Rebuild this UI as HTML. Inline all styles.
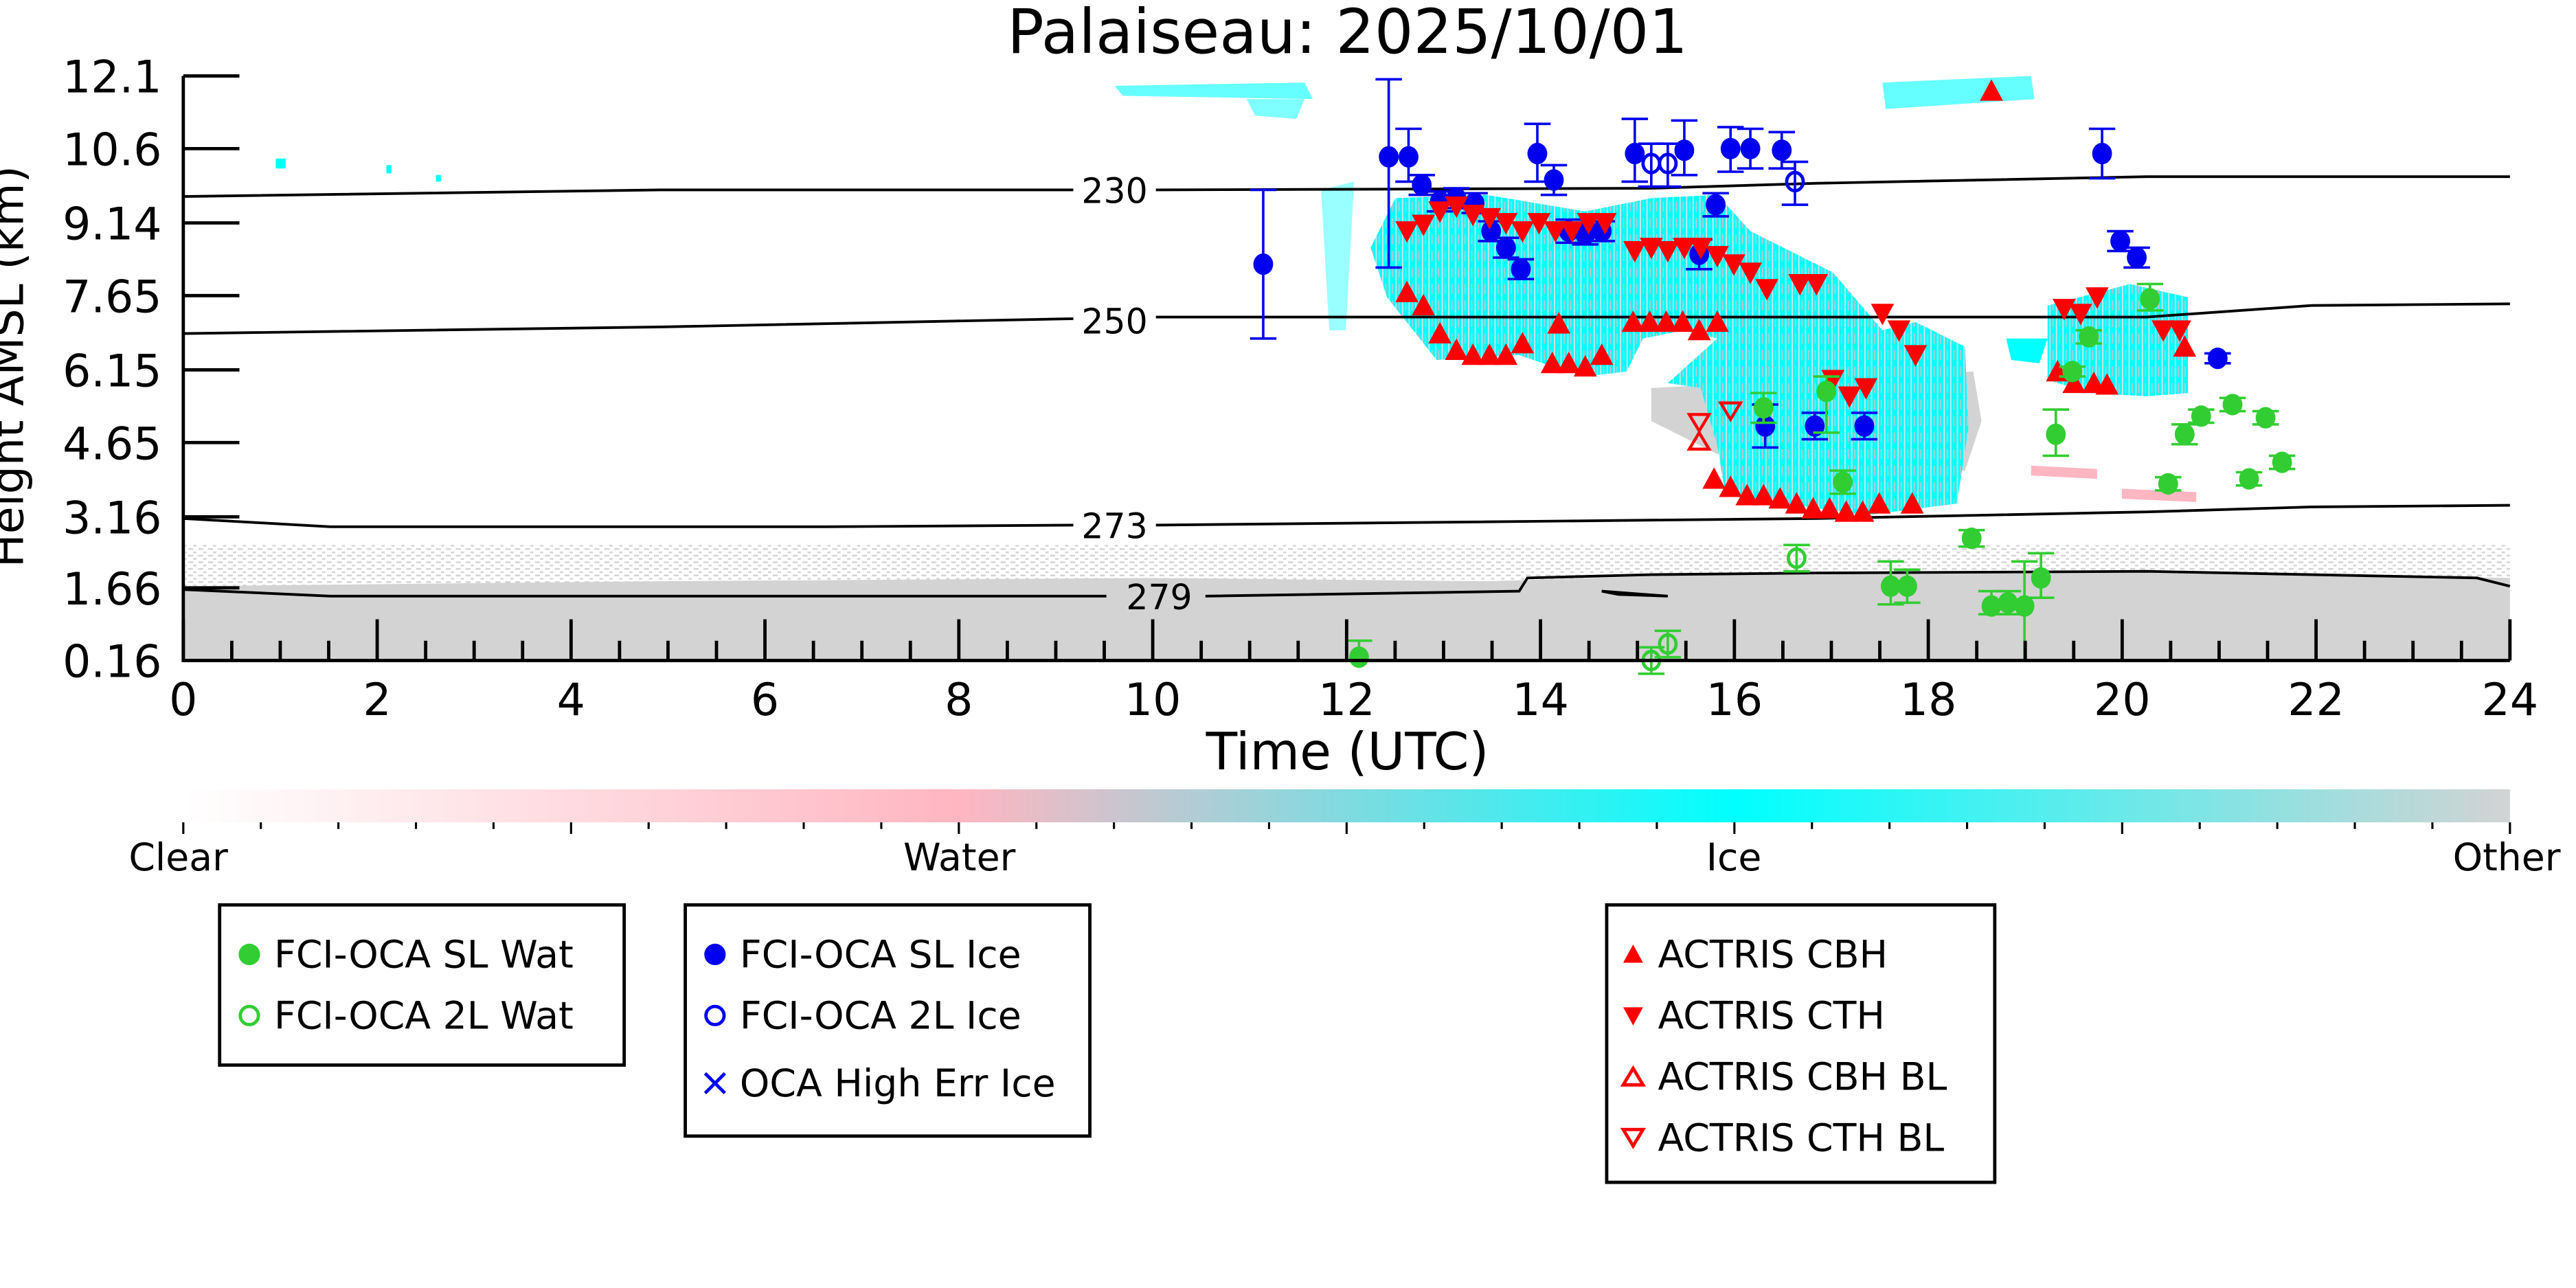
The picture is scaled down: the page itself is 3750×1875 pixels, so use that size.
<!DOCTYPE html>
<html><head><meta charset="utf-8"><style>html,body{margin:0;padding:0;background:#fff}svg{display:block}</style></head>
<body>
<svg id="s" xmlns="http://www.w3.org/2000/svg" width="3750" height="1875" viewBox="0 0 1560 780" font-family="'DejaVu Sans','Liberation Sans',sans-serif">
<defs>
<linearGradient id="cb" x1="0" x2="1" y1="0" y2="0">
<stop offset="0" stop-color="#ffffff"/><stop offset="0.333" stop-color="#ffb6c1"/><stop offset="0.667" stop-color="#00ffff"/><stop offset="1" stop-color="#d3d3d3"/>
</linearGradient>
<pattern id="hat" width="4" height="10" patternUnits="userSpaceOnUse"><rect width="4" height="10" fill="#00ffff"/><rect x="1" width="0.8" height="10" fill="#c8e6e8"/><rect x="3" y="2" width="0.5" height="6" fill="#ffb6c1"/></pattern>
<pattern id="spk" width="6" height="4" patternUnits="userSpaceOnUse"><rect width="6" height="4" fill="#fff"/><rect width="3" height="1" fill="#d3d3d3"/><rect x="3" y="2" width="2" height="1" fill="#d3d3d3"/></pattern>
</defs>
<text x="816" y="32" font-size="37" text-anchor="middle">Palaiseau: 2025/10/01</text>
<rect x="111" y="330" width="1409" height="25" fill="url(#spk)"/>
<path d="M111,355 L400,352 L700,350 L900,352 L1100,346 L1300,346 L1520,350 L1520,400 L111,400Z" fill="#d3d3d3"/>
<path d="M675,52 L790,50 L795,60 L680,58Z" fill="#00ffff" opacity="0.6"/>
<path d="M1140,50 L1230,46 L1232,60 L1142,66Z" fill="#00ffff" opacity="0.6"/>
<path d="M755,60 L790,60 L785,72 L760,70Z" fill="#00ffff" opacity="0.5"/>
<path d="M1000,235 L1195,225 L1200,255 L1190,285 L1040,275 L1000,255Z" fill="#d3d3d3"/>
<path d="M1230,282 L1270,284 L1270,290 L1230,288Z M1285,296 L1330,298 L1330,304 L1285,302Z" fill="#ffb6c1"/>
<path d="M830,150 L845,120 L900,118 L960,128 L1000,120 L1040,118 L1060,140 L1110,165 L1140,200 L1160,195 L1190,210 L1192,260 L1185,305 L1130,312 L1045,300 L1040,270 L1030,235 L1010,232 L1040,205 L1020,200 L995,205 L985,225 L960,228 L940,222 L920,215 L870,218 L840,180Z" fill="url(#hat)"/>
<path d="M800,115 L820,110 L815,200 L805,200Z" fill="#00ffff" opacity="0.4"/>
<path d="M1240,185 L1290,172 L1325,180 L1325,238 L1300,240 L1265,238 L1240,230Z" fill="url(#hat)"/>
<path d="M1215,205 L1240,205 L1235,220 L1218,218Z" fill="#00ffff"/>
<g fill="#00ffff"><rect x="167" y="96" width="6" height="6"/><rect x="234" y="100" width="3" height="5"/><rect x="264" y="106" width="3" height="4"/></g>
<g fill="none" stroke="#000" stroke-width="1.6">
<path d="M111,119 L400,115 L650,115 M700,115 L1000,114 L1100,111 L1300,107 L1520,107"/>
<path d="M111,202 L400,198 L650,193 M700,192 L1300,192 L1400,185 L1520,184"/>
<path d="M111,314 L200,319 L500,319 L650,318 M700,318 L1100,314 L1300,310 L1400,307 L1520,306"/>
<path d="M111,357 L200,361 L400,361 L670,361 M730,361 L920,358 L925,350 L1000,348 L1100,347 L1300,346 L1500,350 L1520,355 M970,358 L1010,361 L980,360Z"/>
</g>
<g font-size="21" text-anchor="middle"><text x="675" y="123">230</text><text x="675" y="202">250</text><text x="675" y="326">273</text><text x="702" y="369">279</text></g>
<g id="mk"></g>
<g stroke="#000" stroke-width="2" fill="none">
<path d="M111,46 L111,400 L1520,400"/>
<path id="yt" d=""/><path id="xt" d=""/>
</g>
<g font-size="27" text-anchor="end" id="yl"></g>
<g font-size="27" text-anchor="middle" id="xl"></g>
<text x="816" y="466" font-size="31" text-anchor="middle">Time (UTC)</text>
<text transform="translate(14,222) rotate(-90)" font-size="27" text-anchor="middle">Height AMSL (km)</text>
<rect x="111" y="478" width="1409" height="20" fill="url(#cb)"/>
<path id="ct" d="" stroke="#000" stroke-width="1.3"/>
<g font-size="23" text-anchor="middle"><text x="108" y="527">Clear</text><text x="581" y="527">Water</text><text x="1050" y="527">Ice</text><text x="1518" y="527">Other</text></g>
<g stroke="#000" stroke-width="2" fill="#fff"><rect x="133" y="548" width="245" height="97"/><rect x="415" y="548" width="245" height="140"/><rect x="973" y="548" width="235" height="168"/></g>
<g font-size="23">
<circle cx="151" cy="578" r="6.5" fill="#32cd32"/><text x="166" y="586">FCI-OCA SL Wat</text>
<circle cx="151" cy="615" r="5.5" fill="none" stroke="#32cd32" stroke-width="2"/><text x="166" y="623">FCI-OCA 2L Wat</text>
<circle cx="433" cy="578" r="6.5" fill="#0000ee"/><text x="448" y="586">FCI-OCA SL Ice</text>
<circle cx="433" cy="615" r="5.5" fill="none" stroke="#0000ee" stroke-width="2"/><text x="448" y="623">FCI-OCA 2L Ice</text>
<path d="M427,650 L439,662 M439,650 L427,662" stroke="#0000ee" stroke-width="2"/><text x="448" y="664">OCA High Err Ice</text>
<path d="M983,583 L989,572 L995,583Z" fill="#f00"/><text x="1004" y="586">ACTRIS CBH</text>
<path d="M983,610 L995,610 L989,621Z" fill="#f00"/><text x="1004" y="623">ACTRIS CTH</text>
<path d="M983,657 L989,647 L995,657Z" fill="none" stroke="#f00" stroke-width="2"/><text x="1004" y="660">ACTRIS CBH BL</text>
<path d="M983,684 L995,684 L989,694Z" fill="none" stroke="#f00" stroke-width="2"/><text x="1004" y="697">ACTRIS CTH BL</text>
</g>
</svg>
<script>
var N='http://www.w3.org/2000/svg',mk=document.getElementById('mk');
function el(t,a,p){var e=document.createElementNS(N,t);for(var k in a)e.setAttribute(k,a[k]);(p||mk).appendChild(e);return e;}
var yv=[['12.1',46],['10.6',90],['9.14',135],['7.65',179],['6.15',224],['4.65',268],['3.16',313],['1.66',356],['0.16',400]];
var d='';yv.forEach(function(v){d+='M111,'+v[1]+' L145,'+v[1]+' ';el('text',{x:98,y:v[1]+10},document.getElementById('yl')).textContent=v[0];});
document.getElementById('yt').setAttribute('d',d);
d='';for(var h=0;h<=48;h++){var x=111+h*1409/48;d+='M'+x+',400 L'+x+','+(h%4==0?375:388)+' ';if(h%4==0)el('text',{x:x,y:433},document.getElementById('xl')).textContent=h/2;}
document.getElementById('xt').setAttribute('d',d);
d='';for(var i=0;i<=30;i++){var x=111+i*1409/30;d+='M'+x+',498 L'+x+','+(i%5==0?505:502)+' ';}
document.getElementById('ct').setAttribute('d',d);
function eb(x,y,lo,hi,c){el('path',{d:'M'+x+','+lo+' L'+x+','+hi+' M'+(x-8)+','+lo+' L'+(x+8)+','+lo+' M'+(x-8)+','+hi+' L'+(x+8)+','+hi,stroke:c,'stroke-width':1.5,fill:'none'});}
var blue=[[765,160,115,205],[841,95,48,162],[853,95,78,110],[861,112,106,118],[872,122,116,128],[882,120,114,126],[893,123,117,129],[903,140,134,146],[912,150,144,156],[921,163,157,169],[931,93,75,110],[941,109,100,118],[950,140,133,147],[960,142,136,148],[970,140,134,146],[990,93,72,110],[1020,91,73,106],[1039,124,117,131],[1029,154,145,163],[1048,90,77,104],[1060,90,78,102],[1079,91,80,102],[1069,258,245,271],[1099,258,250,266],[1129,258,250,266],[1273,93,78,108],[1284,146,140,152],[1294,156,150,162],[1343,217,214,220]];
blue.forEach(function(b){eb(b[0],b[1],b[2],b[3],'#0000ee');el('ellipse',{cx:b[0],cy:b[1],rx:6,ry:6.5,fill:'#0000ee'});});
[[1000,99],[1010,99],[1087,110]].forEach(function(b){eb(b[0],b[1],b[1]-12,b[1]+14,'#0000ee');el('ellipse',{cx:b[0],cy:b[1],rx:5,ry:5.5,fill:'none',stroke:'#0000ee','stroke-width':2});});
var up=[[852,177],[862,185],[872,202],[882,212],[892,215],[902,215],[912,215],[922,208],[940,220],[950,220],[960,222],[970,215],[989,195],[999,195],[1009,195],[1019,195],[1029,200],[1038,290],[1048,295],[1058,300],[1068,300],[1078,302],[1088,305],[1098,308],[1108,308],[1118,310],[1128,310],[1138,305],[1158,305],[1206,55],[1246,225],[1256,232],[1268,232],[1276,233],[1323,210],[944,196],[1040,195]];
up.forEach(function(p){el('path',{d:'M'+(p[0]-7)+','+(p[1]+6)+' L'+p[0]+','+(p[1]-7)+' L'+(p[0]+7)+','+(p[1]+6)+'Z',fill:'#f00'});});
var dn=[[852,140],[862,136],[872,128],[882,125],[892,130],[902,132],[912,135],[922,140],[932,135],[942,140],[952,140],[962,135],[972,135],[990,152],[1000,150],[1010,152],[1020,150],[1030,150],[1040,155],[1050,160],[1060,165],[1070,175],[1090,172],[1100,172],[1110,230],[1120,240],[1130,235],[1140,190],[1150,200],[1160,215],[1250,187],[1260,190],[1270,180],[1310,200],[1320,200]];
dn.forEach(function(p){el('path',{d:'M'+(p[0]-7)+','+(p[1]-6)+' L'+(p[0]+7)+','+(p[1]-6)+' L'+p[0]+','+(p[1]+7)+'Z',fill:'#f00'});});
el('path',{d:'M1023,272 L1029,262 L1035,272Z',fill:'none',stroke:'#f00','stroke-width':1.8});
el('path',{d:'M1023,251 L1035,251 L1029,261Z',fill:'none',stroke:'#f00','stroke-width':1.8});
el('path',{d:'M1042,244 L1054,244 L1048,254Z',fill:'none',stroke:'#f00','stroke-width':1.8});
var gr=[[823,398,388,400],[1068,247,238,256],[1106,237,228,262],[1116,292,285,299],[1145,355,340,366],[1155,355,345,365],[1194,326,321,331],[1206,367,358,372],[1216,365,358,372],[1226,367,340,400],[1236,350,335,362],[1245,263,248,276],[1255,225,222,228],[1265,204,200,208],[1302,181,172,188],[1313,293,289,297],[1323,263,257,269],[1333,252,248,256],[1352,245,241,249],[1372,253,249,257],[1362,290,286,294],[1382,280,276,284]];
gr.forEach(function(b){eb(b[0],b[1],b[2],b[3],'#32cd32');el('ellipse',{cx:b[0],cy:b[1],rx:6,ry:6.5,fill:'#32cd32'});});
[[1088,338],[1010,390],[1000,400]].forEach(function(b){eb(b[0],b[1],b[1]-8,b[1]+8,'#32cd32');el('ellipse',{cx:b[0],cy:b[1],rx:5,ry:5.5,fill:'none',stroke:'#32cd32','stroke-width':2});});
</script>
</body></html>
